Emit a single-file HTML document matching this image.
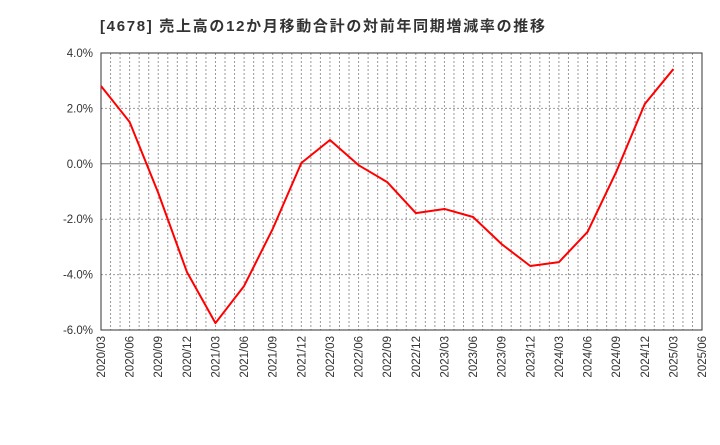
<!DOCTYPE html>
<html><head><meta charset="utf-8"><style>
body{margin:0;background:#fff;}
svg text{font-family:"Liberation Sans","Noto Sans CJK JP",sans-serif;}
</style></head><body>
<svg id="c" width="720" height="440" xmlns="http://www.w3.org/2000/svg">
<text x="100" y="31" font-size="15" font-weight="bold" fill="#333" textLength="445" lengthAdjust="spacing">[4678]  売上高の12か月移動合計の対前年同期増減率の推移</text>
<g id="grid"></g><g id="axes"></g><g id="series"></g>
</svg>
<script>
const xLabels=["2020/03","2020/06","2020/09","2020/12","2021/03","2021/06","2021/09","2021/12","2022/03","2022/06","2022/09","2022/12","2023/03","2023/06","2023/09","2023/12","2024/03","2024/06","2024/09","2024/12","2025/03","2025/06"];
const values=[2.81,1.51,-1.05,-3.9,-5.75,-4.41,-2.35,0.03,0.86,-0.05,-0.66,-1.78,-1.63,-1.92,-2.9,-3.69,-3.55,-2.46,-0.3,2.16,3.42];
const yTicks=[4,2,0,-2,-4,-6];
const yTickLabels=["4.0%","2.0%","0.0%","-2.0%","-4.0%","-6.0%"];
const L=101,R=702,T=53,B=330,yMin=-6,yMax=4;
const xs=i=>L+(R-L)*i/(xLabels.length-1);
const ys=v=>B-(v-yMin)/(yMax-yMin)*(B-T);
const NS="http://www.w3.org/2000/svg";
function mk(p,t,a){const e=document.createElementNS(NS,t);for(const k in a)e.setAttribute(k,a[k]);p.appendChild(e);return e;}
const grid=document.getElementById('grid'),axes=document.getElementById('axes'),ser=document.getElementById('series');
const nMinor=(xLabels.length-1)*3;
for(let j=1;j<nMinor;j++){const x=L+(R-L)*j/nMinor;
const g=mk(grid,'line',{x1:x,x2:x,y1:T,y2:B,stroke:'#999','stroke-dasharray':'2,2','stroke-width':1});

}
yTicks.forEach((v,i)=>{const y=ys(v);
const g=mk(grid,'line',{x1:L,x2:R,y1:y,y2:y,stroke:v===0?'#777':'#999','stroke-dasharray':v===0?'none':'2,2','stroke-width':1});


const t=mk(axes,'text',{x:L-8,y:y+4,'text-anchor':'end','font-size':11.5,fill:'#333'});t.textContent=yTickLabels[i];

});
xLabels.forEach((s,i)=>{const x=xs(i);
const t=mk(axes,'text',{x:x+4,y:B+6,'text-anchor':'end','font-size':11.5,fill:'#333',transform:`rotate(-90 ${x+4} ${B+6})`});t.textContent=s;

});
const fr=mk(axes,'rect',{x:L,y:T,width:R-L,height:B-T,fill:'none',stroke:'#333','stroke-width':1});


const ln=mk(ser,'polyline',{points:values.map((v,i)=>xs(i)+','+ys(v)).join(' '),fill:'none',stroke:'#f00','stroke-width':2,'stroke-linejoin':'round'});


</script>
</body></html>
